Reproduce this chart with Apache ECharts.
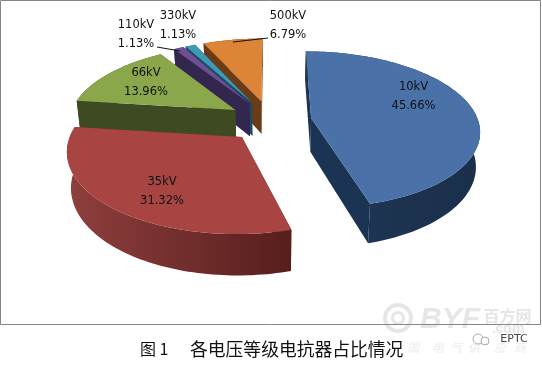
<!DOCTYPE html>
<html><head><meta charset="utf-8">
<style>html,body{margin:0;padding:0;background:#fff}#c{width:542px;height:366px}</style>
<script src="https://cdn.jsdelivr.net/npm/echarts@6/dist/echarts.min.js"></script>
</head><body><div id="c"></div>
<script>
const categories = ['10kV','35kV','66kV','110kV','330kV','500kV'];
const shares = [45.66,31.32,13.96,1.13,1.13,6.79];
const caption = '图 1';
const captionRest = '各电压等级电抗器占比情况';

// drawing style and layout, kept apart from the data
const drawOrder = [5,4,3,2,0,1];
const topColors = ['#4a72a8','#a84543','#8aa74c','#6d4f94','#3d9ab6','#dc8539'];
const wallColors = ['#1c3454','#6f2b29','#3d4a22','#33264f','#1c4a5e','#6a3b14'];
const bandStops = [['#1f3757','#1a2f4a'],['#8f3f3d','#561e1c'],['#3d4a22','#3d4a22'],['#33264f','#33264f'],['#1c4a5e','#1c4a5e'],['#6a3b14','#6a3b14']];
const labelAt = [[413.5,97],[162,192],[146,83],[136,35],[178,26],[288,26]];
const leaders = {3:[[157,47],[180,51]],5:[[268,38],[233,42]]};
const P = {x0:270,y0:-400,F:167,H:520.8,k:0.1484,T:34,ex:0.25,ev:0.269,shrink:0.98};
const FONT = '"DejaVu Sans",sans-serif';

const total = shares.reduce((a,b)=>a+b,0);
const spans = []; let acc = 0;
shares.forEach(s=>{const a=acc/total*2*Math.PI; acc+=s; spans.push([a,acc/total*2*Math.PI]);});

function proj(u,v){const w=1-P.k*v; return [P.x0+P.F*u/w, P.y0+P.H/w, w];}
function down(p){return [P.x0+(p[0]-P.x0)*P.shrink, p[1]+P.T/p[2]];}

function renderItem(params,api){
  const i = api.value(0);
  const [a0,a1] = spans[i];
  const mid=(a0+a1)/2;
  const eu=Math.sin(mid)*P.ex, ev=-Math.cos(mid)*P.ev;
  const apex=proj(eu,ev), arc=[];
  const n=Math.max(6,Math.ceil((a1-a0)*40));
  for(let j=0;j<=n;j++){const t=a0+(a1-a0)*j/n; arc.push(proj(eu+Math.sin(t),ev-Math.cos(t)));}
  const poly=(pts,fill)=>({type:'polygon',shape:{points:pts.map(p=>[p[0],p[1]])},style:{fill:fill,stroke:null}});
  const kids=[];
  const w=wallColors[i];
  const bApex=down(apex), bArc=arc.map(down);
  kids.push(poly([apex,arc[0],bArc[0],bApex],w));
  kids.push(poly([apex,arc[n],bArc[n],bApex],w));
  const xs=arc.map(p=>p[0]);
  const band=new echarts.graphic.LinearGradient(Math.min(...xs),0,Math.max(...xs),0,
    [{offset:0,color:bandStops[i][0]},{offset:1,color:bandStops[i][1]}],true);
  kids.push(poly(arc.concat(bArc.slice().reverse()),band));
  kids.push(poly([apex].concat(arc),topColors[i]));
  if(leaders[i]) kids.push({type:'polyline',shape:{points:leaders[i]},style:{stroke:'#111',lineWidth:1,fill:null}});
  const pct=shares[i].toFixed(2)+'%';
  kids.push({type:'text',z2:50,style:{text:categories[i]+'\n'+pct,x:labelAt[i][0],y:labelAt[i][1],
    align:'center',verticalAlign:'middle',font:'11.5px '+FONT,lineHeight:19,fill:'#111'}});
  return {type:'group',children:kids};
}

const wm=(text,x,y,size,extra)=>({type:'text',silent:true,z:1,style:Object.assign({text:text,x:x,y:y,align:'center',verticalAlign:'middle',
  font:'bold '+size+'px "Liberation Sans",sans-serif',fill:'#e6e6e6'},extra||{})});

const chart=echarts.init(document.getElementById('c'),null,{renderer:'canvas'});
chart.setOption({
  animation:false,backgroundColor:'#fff',
  graphic:[
    {type:'ring',z:1,silent:true,shape:{cx:398,cy:318,r:15,r0:11},style:{fill:'#e6e6e6'}},
    {type:'ring',z:1,silent:true,shape:{cx:398,cy:318,r:7,r0:4},style:{fill:'#e6e6e6'}},
    wm('BYF',450,320,30,{font:'italic bold 30px "Liberation Sans",sans-serif'}),
    wm('百方网',507.5,316,16,{font:'bold 16px "Noto Sans CJK SC",sans-serif'}),
    wm('.com',508,329,14),
    wm('国',413,347,12,{font:'italic 12px "Noto Sans CJK SC",sans-serif',fill:'#ececec'}),
    wm('电',438,347,12,{font:'italic 12px "Noto Sans CJK SC",sans-serif',fill:'#ececec'}),
    wm('气',456,347,12,{font:'italic 12px "Noto Sans CJK SC",sans-serif',fill:'#ececec'}),
    wm('供',474,347,12,{font:'italic 12px "Noto Sans CJK SC",sans-serif',fill:'#ececec'}),
    wm('应',500,347,12,{font:'italic 12px "Noto Sans CJK SC",sans-serif',fill:'#ececec'}),
    wm('商',520,347,12,{font:'italic 12px "Noto Sans CJK SC",sans-serif',fill:'#ececec'}),
    {type:'rect',z:2,silent:true,shape:{x:0.5,y:0.5,width:540,height:324},style:{fill:null,stroke:'#868686',lineWidth:1}},
    {type:'circle',z:3,silent:true,shape:{cx:478,cy:339,r:5},style:{fill:'#fff',stroke:'#aaa',lineWidth:1}},
    {type:'circle',z:3,silent:true,shape:{cx:485,cy:341,r:4},style:{fill:'#fff',stroke:'#aaa',lineWidth:1}},
    {type:'text',z:3,silent:true,style:{text:'EPTC',x:514,y:339,align:'center',verticalAlign:'middle',font:'11px "DejaVu Sans",sans-serif',fill:'#444'}},
    {type:'text',z:3,silent:true,style:{text:caption,x:140,y:349,align:'left',verticalAlign:'middle',font:'16px "Noto Sans CJK SC",sans-serif',fill:'#111'}},
    {type:'text',z:3,silent:true,style:{text:captionRest,x:190,y:349,align:'left',verticalAlign:'middle',font:'17.8px "Noto Sans CJK SC",sans-serif',fill:'#111'}}
  ],
  series:[{type:'custom',coordinateSystem:'none',silent:true,z:5,renderItem:renderItem,
    data:drawOrder.map(i=>[i])}]
});
</script></body></html>
